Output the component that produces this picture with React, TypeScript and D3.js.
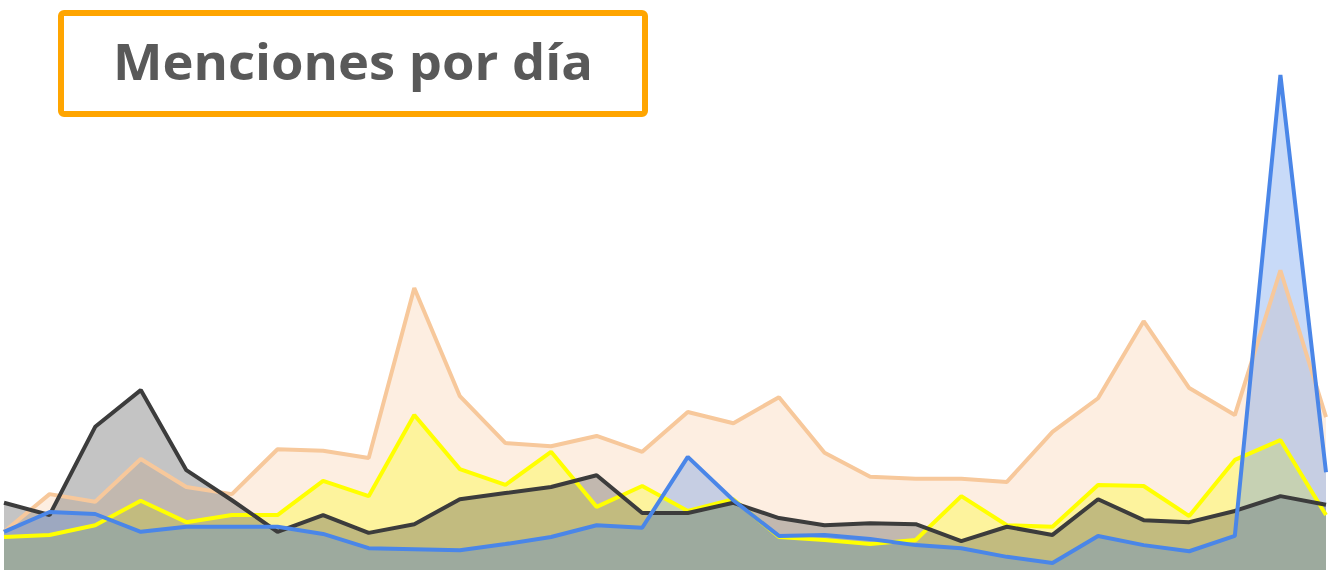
import React from "react";
import * as d3 from "d3";

const days = [
  "1", "2", "3", "4", "5", "6", "7", "8", "9", "10",
  "11", "12", "13", "14", "15", "16", "17", "18", "19", "20",
  "21", "22", "23", "24", "25", "26", "27", "28", "29", "30",
];

const orangeValues = [
  11.4, 18.8, 17.3, 25.7, 20.2, 18.8, 27.6, 27.3, 25.9, 59.2,
  38.0, 28.8, 28.2, 30.2, 27.1, 34.9, 32.7, 37.8, 26.9, 22.2,
  21.8, 21.8, 21.2, 31.0, 37.6, 52.7, 39.6, 34.3, 62.7, 33.9,
];
const yellowValues = [
  10.4, 10.8, 12.7, 17.5, 13.3, 14.7, 14.7, 21.4, 18.4, 34.3,
  23.7, 20.6, 27.1, 16.3, 20.4, 15.5, 17.8, 10.4, 9.8, 9.0,
  9.8, 18.4, 12.7, 12.4, 20.6, 20.4, 14.5, 25.5, 29.4, 14.7,
];
const blackValues = [
  17.1, 14.7, 32.0, 39.2, 23.5, 17.6, 11.4, 14.7, 11.2, 12.9,
  17.8, 19.0, 20.2, 22.5, 15.1, 15.1, 17.1, 14.1, 12.7, 13.1,
  12.9, 9.6, 12.4, 10.8, 17.8, 13.7, 13.3, 15.5, 18.4, 16.7,
];
const blueValues = [
  11.4, 15.3, 14.9, 11.4, 12.4, 12.4, 12.4, 11.0, 8.2, 8.0,
  7.8, 9.0, 10.4, 12.7, 12.2, 26.1, 17.6, 10.6, 10.8, 10.0,
  8.8, 8.2, 6.5, 5.3, 10.6, 8.8, 7.6, 10.6, 101.0, 23.1,
];

const seriesNames = ["naranja", "amarillo", "negro", "azul"];
const seriesColors = ["#F7C89B", "#FFFF00", "#3C3C3C", "#4A86E8"];
const title = "Menciones por día";

export default function App() {
  const W = 1336;
  const H = 570;
  const x = d3.scalePoint<string>().domain(days).range([4, 1326]);
  const y = d3.scaleLinear().domain([0, 100]).range([590, 80]);
  const all = [orangeValues, yellowValues, blackValues, blueValues];

  const area = d3
    .area<number>()
    .x((_, i) => x(days[i]) as number)
    .y0(y(0))
    .y1((d) => y(d));
  const line = d3
    .line<number>()
    .x((_, i) => x(days[i]) as number)
    .y((d) => y(d));

  return (
    <div style={{ position: "absolute", left: 0, top: 0, width: W, height: H, background: "#fff" }}>
      <svg width={W} height={H} style={{ display: "block" }}>
        <rect x={0} y={0} width={W} height={H} fill="#ffffff" />
        <g>
          {all.map((vals, k) => (
            <path key={"a" + seriesNames[k]} d={area(vals) || ""} fill={seriesColors[k]} fillOpacity={0.3} />
          ))}
        </g>
        <g>
          {all.map((vals, k) => (
            <path
              key={"l" + seriesNames[k]}
              d={line(vals) || ""}
              fill="none"
              stroke={seriesColors[k]}
              strokeWidth={4}
              strokeLinejoin="bevel"
            />
          ))}
        </g>
        <rect x={61} y={13} width={584} height={101} rx={3} fill="#ffffff" stroke="#FFA500" strokeWidth={6} />
        <text
          x={353}
          y={80}
          textAnchor="middle"
          fontFamily="'Open Sans', 'DejaVu Sans', sans-serif"
          fontWeight={700}
          fontSize={50}
          fill="#595959"
          textLength={480}
          lengthAdjust="spacingAndGlyphs"
        >
          {title}
        </text>
      </svg>
    </div>
  );
}
